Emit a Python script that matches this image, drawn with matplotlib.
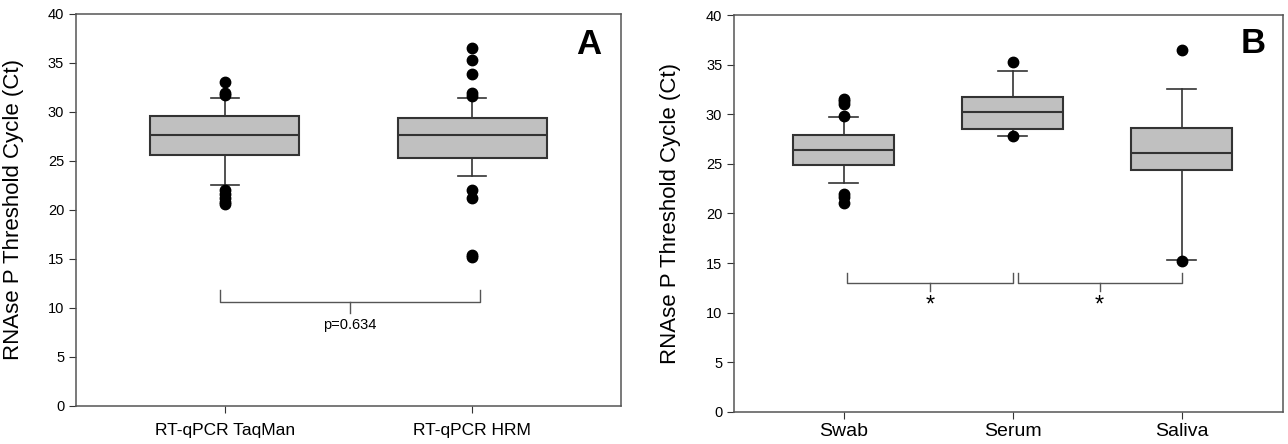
import matplotlib
matplotlib.use("Agg")
import matplotlib.pyplot as plt

plt.rcParams["font.family"] = ["Liberation Sans", "DejaVu Sans"]

# ---- panel A: summary statistics ----
a_labels   = ["RT-qPCR TaqMan", "RT-qPCR HRM"]
a_q1       = [25.6, 25.3]
a_med      = [27.7, 27.65]
a_q3       = [29.6, 29.35]
a_whislo   = [22.5, 23.5]
a_whishi   = [31.4, 31.45]
a_fliers   = [
    [33.1, 31.95, 31.75, 22.0, 21.6, 21.2, 20.8, 20.6],
    [36.5, 35.3, 33.9, 31.9, 31.6, 22.0, 21.25, 15.4, 15.2],
]
a_pvalue   = "p=0.634"

# ---- panel B ----
b_labels   = ["Swab", "Serum", "Saliva"]
b_q1       = [24.9, 28.5, 24.4]
b_med      = [26.4, 30.27, 26.1]
b_q3       = [27.9, 31.75, 28.65]
b_whislo   = [23.1, 27.8, 15.3]
b_whishi   = [29.7, 34.35, 32.55]
b_fliers   = [
    [31.55, 31.3, 31.0, 29.8, 22.0, 21.7, 21.1],
    [35.25, 27.8],
    [36.5, 15.2],
]
b_sig      = ["*", "*"]

y_ticks = [0, 5, 10, 15, 20, 25, 30, 35, 40]
ylabel  = "RNAse P Threshold Cycle (Ct)"

EDGE = "#333333"
FILL = "#c0c0c0"


def make_stats(labels, q1, med, q3, lo, hi, fliers):
    return [
        dict(label=l, q1=a, med=m, q3=b, whislo=w0, whishi=w1, fliers=f)
        for l, a, m, b, w0, w1, f in zip(labels, q1, med, q3, lo, hi, fliers)
    ]


def draw_panel(ax, stats, capw, xlim, xfs, xpad):
    n = len(stats)
    ax.bxp(
        stats, positions=range(1, n + 1), widths=0.6, patch_artist=True,
        capwidths=capw,
        boxprops=dict(facecolor=FILL, edgecolor=EDGE, linewidth=1.5),
        medianprops=dict(color=EDGE, linewidth=1.5),
        whiskerprops=dict(color=EDGE, linewidth=1.2),
        capprops=dict(color=EDGE, linewidth=1.2),
        flierprops=dict(marker="o", markerfacecolor="black",
                        markeredgecolor="black", markersize=7.5),
    )
    ax.set_xlim(*xlim)
    ax.set_ylim(0, 40)
    ax.set_yticks(y_ticks)
    ax.tick_params(axis="y", labelsize=10.5, length=5, color=EDGE)
    ax.tick_params(axis="x", labelsize=xfs, length=5, color=EDGE, pad=xpad)
    ax.set_ylabel(ylabel, fontsize=16)
    for sp in ax.spines.values():
        sp.set_color("#555555")
        sp.set_linewidth(1.1)


def bracket(ax, x0, x1, y, h, dm):
    kw = dict(color="#555555", linewidth=1.0)
    ax.plot([x0, x0, x1, x1], [y + h, y, y, y + h], **kw)
    xm = (x0 + x1) / 2
    ax.plot([xm, xm], [y, y - dm], **kw)
    return xm


fig = plt.figure(figsize=(12.88, 4.44), dpi=100)
axA = fig.add_axes([0.0590, 0.0856, 0.4231, 0.8829])
axB = fig.add_axes([0.5699, 0.0721, 0.4262, 0.8941])

statsA = make_stats(a_labels, a_q1, a_med, a_q3, a_whislo, a_whishi, a_fliers)
draw_panel(axA, statsA, 0.113, (0.4, 2.6), 12.5, 7)
axA.yaxis.set_label_coords(-0.095, 0.5)
xm = bracket(axA, 0.98, 2.03, 10.6, 1.2, 1.1)
axA.text(xm, 8.3, a_pvalue, ha="center", va="center", fontsize=10.5)
axA.text(0.941, 0.922, "A", transform=axA.transAxes, ha="center", va="center",
         fontsize=25, fontweight="bold")

statsB = make_stats(b_labels, b_q1, b_med, b_q3, b_whislo, b_whishi, b_fliers)
draw_panel(axB, statsB, 0.17, (0.35, 3.6), 14, 3)
axB.yaxis.set_label_coords(-0.097, 0.5)
pairs = [(1.02, 2.0), (2.03, 3.0)]
for (x0, x1), s in zip(pairs, b_sig):
    xm = bracket(axB, x0, x1, 13.0, 1.0, 0.8)
    axB.text(xm, 10.7, s, ha="center", va="center", fontsize=17)
axB.text(0.945, 0.927, "B", transform=axB.transAxes, ha="center", va="center",
         fontsize=25, fontweight="bold")

fig.savefig("out.png", dpi=100)
